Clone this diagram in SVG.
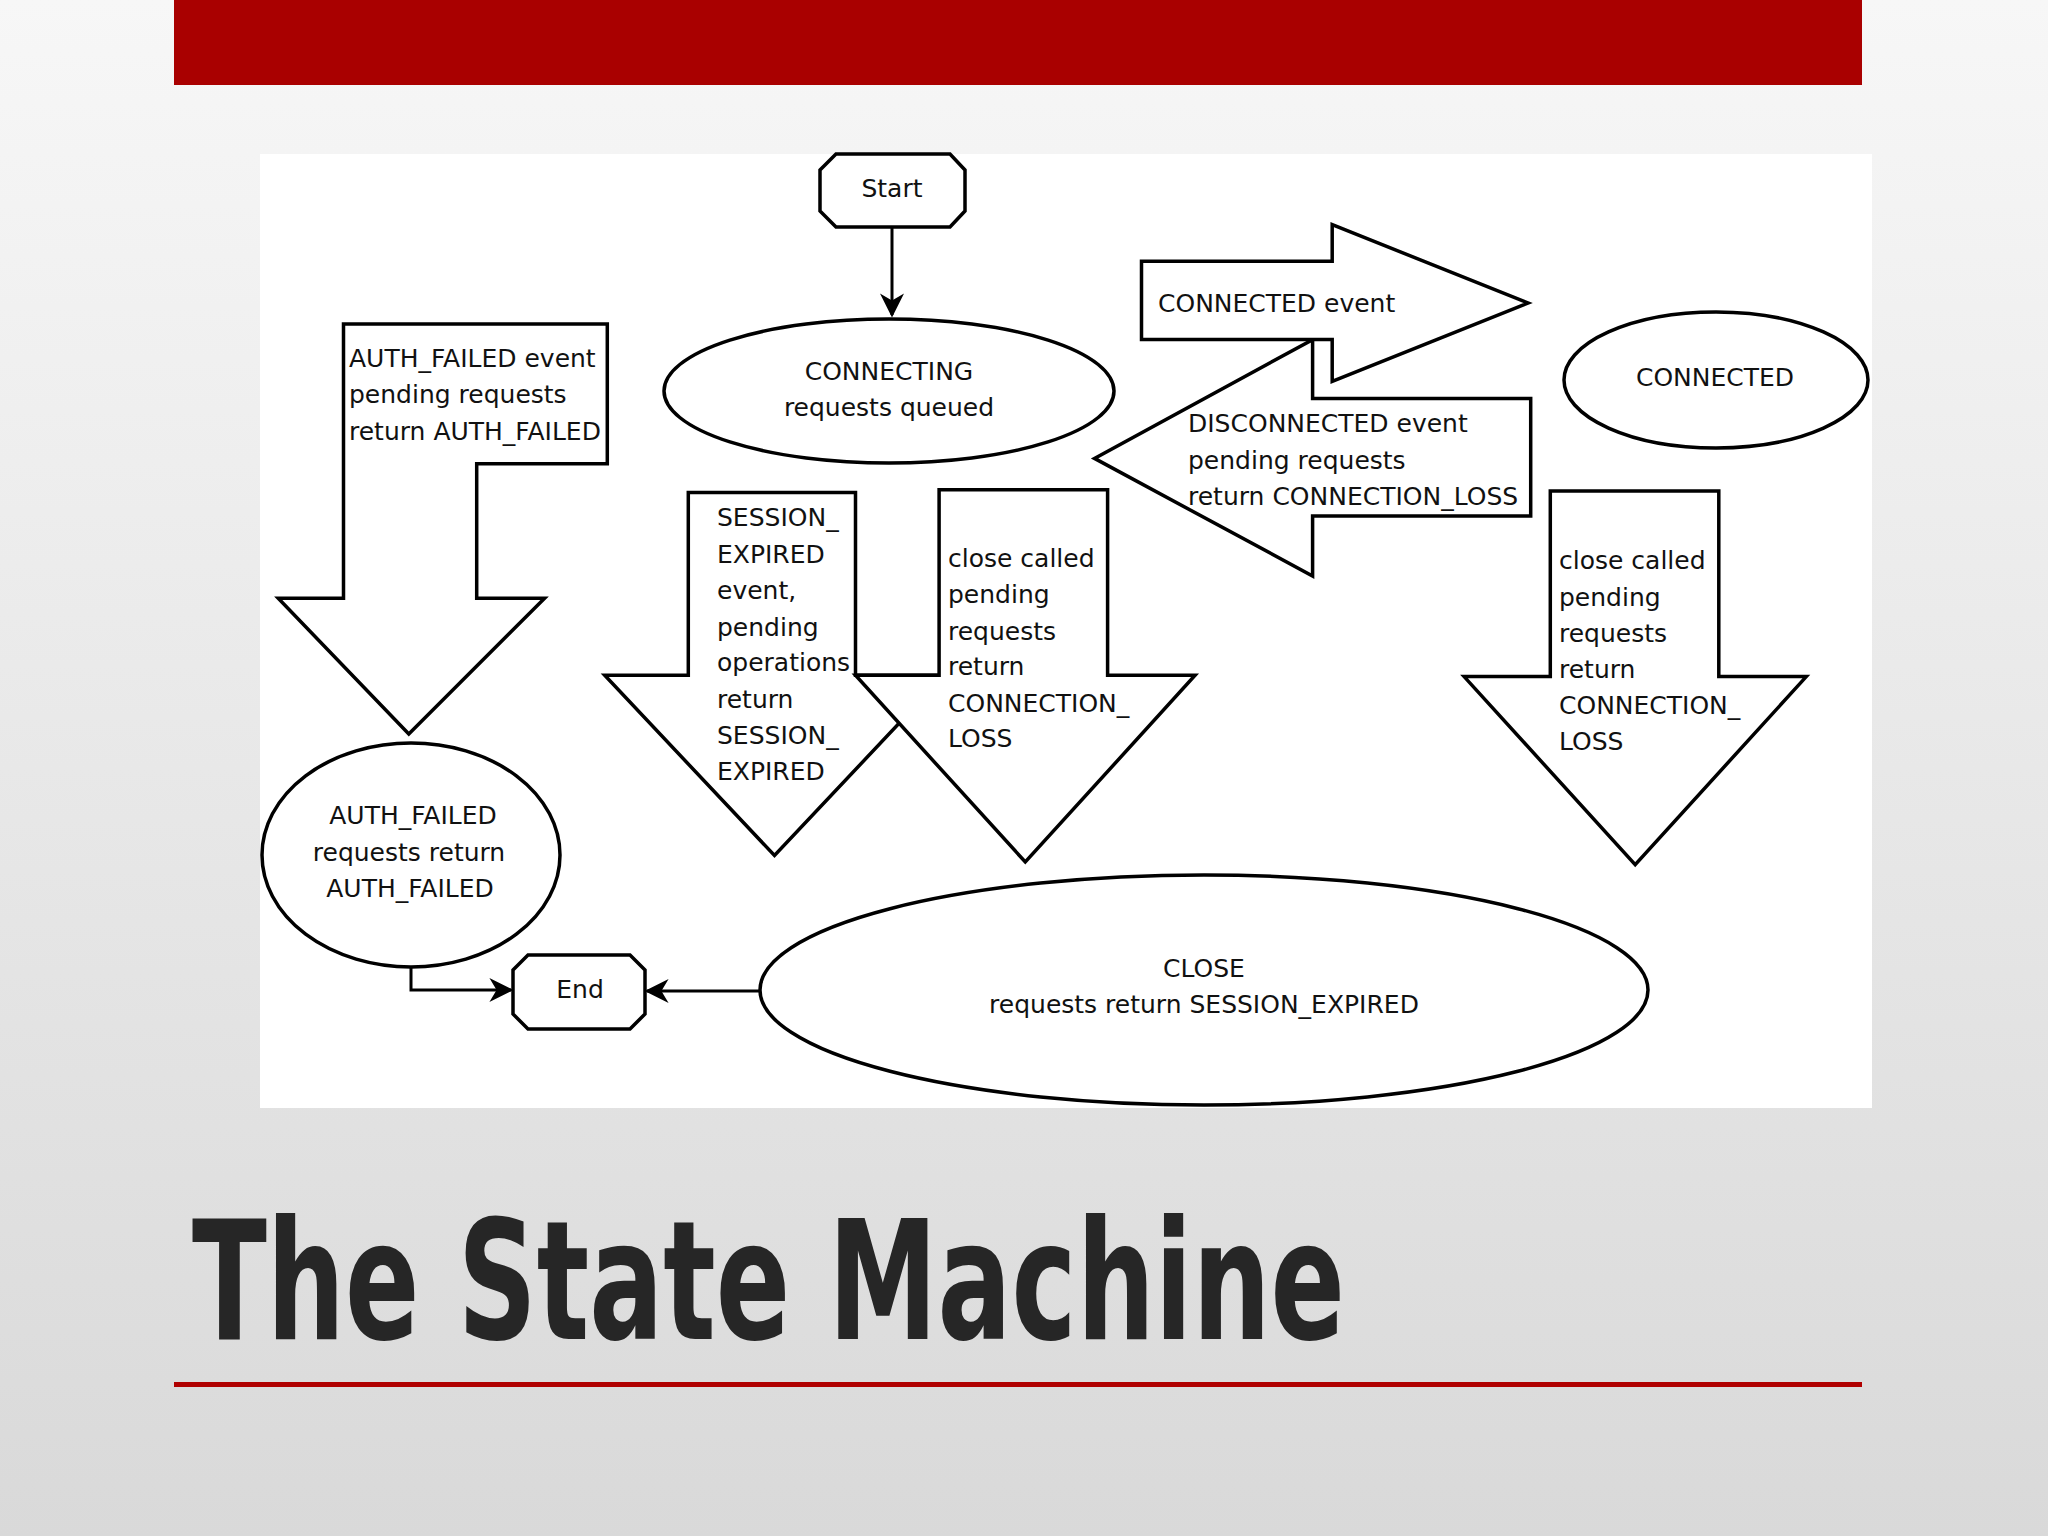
<svg xmlns="http://www.w3.org/2000/svg" width="2048" height="1536" viewBox="0 0 2048 1536">
<defs>
<linearGradient id="bg" x1="0" y1="0" x2="0" y2="1">
<stop offset="0" stop-color="#f7f7f7"/><stop offset="1" stop-color="#d9d9d9"/>
</linearGradient>
<marker id="ah" viewBox="0 0 10 10" refX="10" refY="5" markerWidth="10" markerHeight="10" markerUnits="userSpaceOnUse" orient="auto"><path d="M0,0 L10,5 L0,10 L3,5 Z" fill="#000"/></marker>
<marker id="ah2" viewBox="0 0 10 10" refX="9" refY="5" markerWidth="28" markerHeight="24" markerUnits="userSpaceOnUse" orient="auto"><path d="M0,0 L10,5 L0,10 L3,5 Z" fill="#000"/></marker>
</defs>
<style>
.s{fill:#fff;stroke:#000;stroke-width:3.5}
.t{font-family:"DejaVu Sans",sans-serif;font-size:25px;fill:#111}
.c{text-anchor:middle}
.ln{fill:none;stroke:#000;stroke-width:3}
</style>
<rect width="2048" height="1536" fill="url(#bg)"/>
<rect x="174" y="0" width="1688" height="85" fill="#a90000"/>
<rect x="260" y="154" width="1612" height="954" fill="#fff"/>

<g id="connectors">
<line class="ln" x1="892" y1="227" x2="892" y2="315" marker-end="url(#ah2)"/>
<polyline class="ln" points="411,968 411,990 511,990" marker-end="url(#ah2)"/>
<line class="ln" x1="761" y1="991" x2="647" y2="991" marker-end="url(#ah2)"/>
</g>

<g id="start"><path class="s" d="M836,154 H950 L965,170 V211 L950,227 H836 L820,211 V170 Z"/><text class="t c" x="892" y="197">Start</text></g>
<g id="connecting"><ellipse class="s" cx="889" cy="391" rx="225" ry="72"/><text class="t c" x="889" y="380">CONNECTING</text><text class="t c" x="889" y="416">requests queued</text></g>

<g id="authFailedEvent"><polygon class="s" points="343.5,323.9 607.3,323.9 607.3,463.7 476.7,463.7 476.7,598.2 544.6,598.2 408.8,734 278.2,598.2 343.5,598.2"/>
<text class="t" x="349" y="367">AUTH_FAILED event</text><text class="t" x="349" y="403">pending requests</text><text class="t" x="349" y="440">return AUTH_FAILED</text></g>

<g id="authFailed"><ellipse class="s" cx="411" cy="855" rx="149" ry="112"/><text class="t c" x="413" y="824">AUTH_FAILED</text><text class="t c" x="409" y="861">requests return</text><text class="t c" x="410" y="897">AUTH_FAILED</text></g>

<g id="end"><path class="s" d="M528,955 H630 L645,970 V1014 L630,1029 H528 L513,1014 V970 Z"/><text class="t c" x="580" y="998">End</text></g>

<g id="close"><ellipse class="s" cx="1204" cy="990" rx="444" ry="115"/><text class="t c" x="1204" y="977">CLOSE</text><text class="t c" x="1204" y="1013">requests return SESSION_EXPIRED</text></g>

<g id="sessionExpired"><polygon class="s" points="688.3,492.4 855.5,492.4 855.5,675.3 944.3,675.3 774.5,855.5 604.7,675.3 688.3,675.3"/>
<text class="t" x="717" y="526">SESSION_</text><text class="t" x="717" y="563">EXPIRED</text><text class="t" x="717" y="599">event,</text><text class="t" x="717" y="636">pending</text><text class="t" x="717" y="671">operations</text><text class="t" x="717" y="708">return</text><text class="t" x="717" y="744">SESSION_</text><text class="t" x="717" y="780">EXPIRED</text></g>

<g id="closeCalled1"><polygon class="s" points="939.1,489.8 1107.6,489.8 1107.6,675.3 1195.1,675.3 1025.3,862 855.5,675.3 939.1,675.3"/>
<text class="t" x="948" y="567">close called</text><text class="t" x="948" y="603">pending</text><text class="t" x="948" y="640">requests</text><text class="t" x="948" y="675">return</text><text class="t" x="948" y="712">CONNECTION_</text><text class="t" x="948" y="747">LOSS</text></g>

<g id="closeCalled2"><polygon class="s" points="1550.3,491.1 1718.8,491.1 1718.8,676.6 1806.3,676.6 1635.2,864.6 1464.1,676.6 1550.3,676.6"/>
<text class="t" x="1559" y="569">close called</text><text class="t" x="1559" y="606">pending</text><text class="t" x="1559" y="642">requests</text><text class="t" x="1559" y="678">return</text><text class="t" x="1559" y="714">CONNECTION_</text><text class="t" x="1559" y="750">LOSS</text></g>

<g id="disconnectedEvent"><polygon class="s" points="1530.7,398.4 1312.6,398.4 1312.6,339.6 1094.5,458.4 1312.6,576 1312.6,515.9 1530.7,515.9"/>
<text class="t" x="1188" y="432">DISCONNECTED event</text><text class="t" x="1188" y="469">pending requests</text><text class="t" x="1188" y="505">return CONNECTION_LOSS</text></g>

<g id="connectedEvent"><polygon class="s" points="1141.5,261.2 1332.2,261.2 1332.2,224.6 1528.1,303 1332.2,381.4 1332.2,339.6 1141.5,339.6"/>
<text class="t" x="1158" y="312">CONNECTED event</text></g>

<g id="connected"><ellipse class="s" cx="1716" cy="380" rx="152" ry="68"/><text class="t c" x="1715" y="386">CONNECTED</text></g>

<text x="192" y="1339" font-family="'Liberation Sans Narrow','DejaVu Sans Condensed',sans-serif" font-weight="bold" font-size="165" fill="#262626" textLength="1153" lengthAdjust="spacingAndGlyphs">The State Machine</text>
<rect x="174" y="1382" width="1688" height="5" fill="#b00000"/>
</svg>
